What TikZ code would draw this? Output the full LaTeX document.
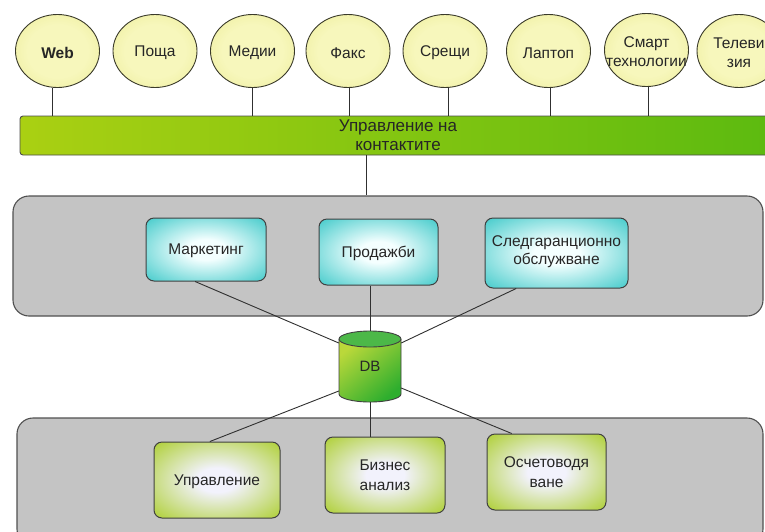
\documentclass[tikz,border=0pt]{standalone}
\usepackage{fontspec}
\setmainfont{Liberation Sans}
\usetikzlibrary{calc,shapes.geometric}
\definecolor{ellIn}{HTML}{F7F7BC}
\definecolor{ellOut}{HTML}{E4E47C}
\definecolor{ellLine}{HTML}{3A3A2A}
\definecolor{cyIn}{HTML}{F4FFFF}
\definecolor{cyOut}{HTML}{34C6C6}
\definecolor{grIn}{HTML}{F2F2FC}
\definecolor{grOut}{HTML}{A8CC22}
\definecolor{grayFill}{HTML}{C4C4C4}
\definecolor{grayLine}{HTML}{505050}
\definecolor{barL}{HTML}{AAD012}
\definecolor{barR}{HTML}{5CBA10}
\definecolor{dbA}{HTML}{BAD83A}
\definecolor{dbB}{HTML}{2EAE2E}
\definecolor{dbTop}{HTML}{4CB848}
\definecolor{lineC}{HTML}{303030}
\pgfdeclareradialshading{ellglow}{\pgfpoint{0bp}{0bp}}{color(0bp)=(ellIn); color(18bp)=(ellIn); color(50bp)=(ellOut)}
\pgfdeclareradialshading{cyglow}{\pgfpoint{0bp}{0bp}}{color(0bp)=(cyIn); color(8bp)=(cyIn); color(38bp)=(cyOut); color(50bp)=(cyOut)}
\pgfdeclareradialshading{grglow}{\pgfpoint{0bp}{0bp}}{color(0bp)=(grIn); color(8bp)=(grIn); color(38bp)=(grOut); color(50bp)=(grOut)}
\begin{document}
\begin{tikzpicture}[x=1pt,y=-1pt,
  ell/.style={ellipse, draw=ellLine, line width=0.9pt, shading=ellglow, minimum width=84pt, minimum height=73pt, inner sep=0pt},
  etxt/.style={font=\fontsize{15.5}{19}\selectfont, align=center, text=black!85, yshift=-2pt},
  graybox/.style={draw=grayLine, line width=1.1pt, fill=grayFill, rounded corners=16pt, inner sep=0pt},
  cbox/.style={draw=black!75, line width=1pt, rounded corners=8pt, shading=cyglow, align=center, inner sep=1pt, text depth=0pt, font=\fontsize{15.5}{18}\selectfont, text=black!85},
  gbox/.style={draw=black!75, line width=1pt, rounded corners=8pt, shading=grglow, align=center, inner sep=1pt, text depth=0pt, font=\fontsize{15.5}{20}\selectfont, text=black!85},
  barbox/.style={draw=black!70, line width=0.9pt, rounded corners=3pt, left color=barL, right color=barR, align=center, inner sep=0pt, font=\fontsize{17}{19}\selectfont, text=black!85},
  conn/.style={draw=lineC, line width=0.9pt}
]
\useasboundingbox (0,0) rectangle (765,531);
\clip (0,0) rectangle (765,531);

% gray panels
\node[graybox, minimum width=750pt, minimum height=120pt] (grayA) at (388,256) {};
\node[graybox, minimum width=746pt, minimum height=127pt] (grayB) at (390,481.5) {};

% DB cylinder
\path[top color=dbA, bottom color=dbB, shading angle=40] (339,339) -- (339,394) arc[start angle=180, end angle=0, x radius=31, y radius=8] -- (401,339) arc[start angle=0, end angle=180, x radius=31, y radius=8] -- cycle;
\draw[line width=0.9pt, draw=black!75] (339,339) -- (339,394) arc[start angle=180, end angle=0, x radius=31, y radius=8] -- (401,339);
\draw[line width=0.9pt, draw=black!75, fill=dbTop] (370,339) ellipse[x radius=31, y radius=8];
\node[minimum width=62pt, minimum height=71pt, inner sep=0pt, font=\fontsize{15}{16}\selectfont, text=black!85] (db) at (370,366.5) {\raisebox{-5pt}{DB}};

% department boxes
\node[cbox, minimum width=120pt, minimum height=63pt] (mkt) at (206,249.5) {Маркетинг};
\node[cbox, minimum width=119pt, minimum height=66pt] (prod) at (378.5,252) {Продажби};
\node[cbox, minimum width=143pt, minimum height=70pt] (sled) at (556.5,253) {\raisebox{6pt}{\shortstack{Следгаранционно\\[1pt]обслужване}}};
\node[gbox, minimum width=126pt, minimum height=76pt] (upr) at (217,480) {Управление};
\node[gbox, minimum width=120pt, minimum height=76pt] (biz) at (385,475) {Бизнес\\анализ};
\node[gbox, minimum width=119pt, minimum height=76pt] (osch) at (546.5,472) {Осчетоводя\\ване};

% channel ellipses
\node[ell, label={[etxt]center:\textbf{Web}}] (web) at (57.5,51) {};
\node[ell, label={[etxt]center:Поща}] (posht) at (155,51) {};
\node[ell, label={[etxt]center:Медии}] (media) at (252.5,51) {};
\node[ell, label={[etxt]center:Факс}] (fax) at (348,51) {};
\node[ell, label={[etxt]center:Срещи}] (meet) at (445,51) {};
\node[ell, label={[etxt]center:Лаптоп}] (lap) at (548.5,51) {};
\node[ell, label={[etxt]center:{Смарт\\технологии}}] (smart) at (646.5,50) {};
\node[ell, label={[etxt]center:{Телеви\\зия}}] (tv) at (739,51) {};

% contact management bar
\node[barbox, minimum width=756pt, minimum height=39pt] (bar) at (398,135.5) {Управление на\\контактите};

% connectors: channels to bar
\draw[conn] ([xshift=-5.5pt]web.south) -- ([xshift=-5.5pt]web.south |- bar.north);
\draw[conn] (media.south) -- (media.south |- bar.north);
\draw[conn] ([xshift=1pt]fax.south) -- ([xshift=1pt]fax.south |- bar.north);
\draw[conn] ([xshift=3pt]meet.south) -- ([xshift=3pt]meet.south |- bar.north);
\draw[conn] ([xshift=1.5pt]lap.south) -- ([xshift=1.5pt]lap.south |- bar.north);
\draw[conn] ([xshift=1.5pt]smart.south) -- ([xshift=1.5pt]smart.south |- bar.north);

% bar to upper panel
\coordinate (bt) at ($(bar.south west)!0.458!(bar.south east)$);
\draw[conn] (bt) -- (bt |- grayA.north);

% departments to DB
\draw[conn] ($(mkt.south west)!0.41!(mkt.south east)$) -- ([yshift=23.5pt]db.west);
\draw[conn] (db.north |- prod.south) -- (db.north);
\draw[conn] ($(sled.south west)!0.22!(sled.south east)$) -- ([yshift=23.5pt]db.east);
\draw[conn] ([yshift=-24.5pt]db.west) -- ($(upr.north west)!0.444!(upr.north east)$);
\draw[conn] (db.south) -- (db.south |- biz.north);
\draw[conn] ([yshift=-21.5pt]db.east) -- ($(osch.north west)!0.21!(osch.north east)$);
\end{tikzpicture}
\end{document}
